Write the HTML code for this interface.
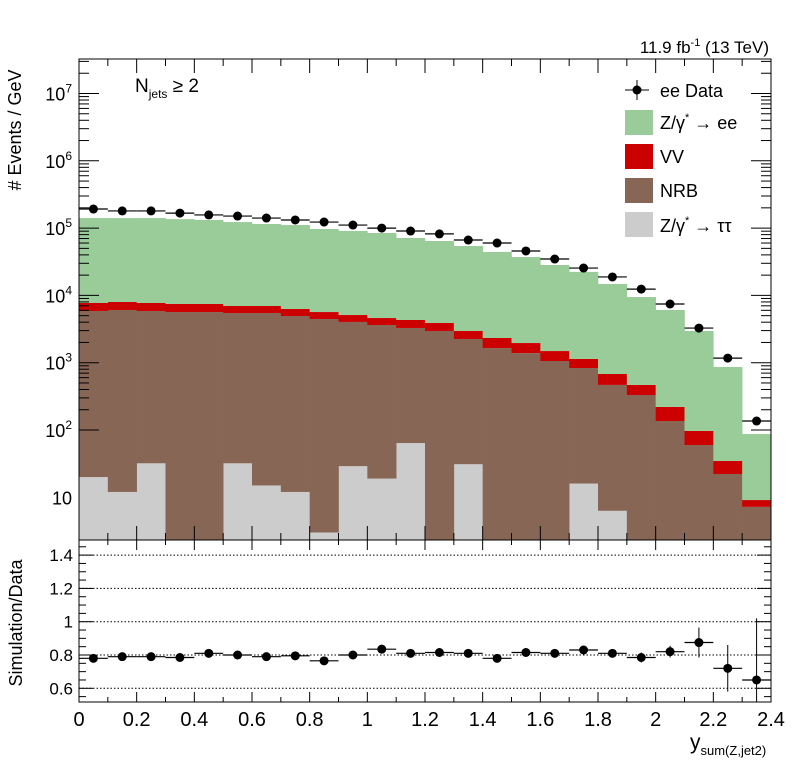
<!DOCTYPE html>
<html><head><meta charset="utf-8">
<style>
html,body{margin:0;padding:0;background:#fff;}
svg{display:block;font-family:"Liberation Sans",sans-serif;}
</style></head>
<body>
<svg id="c" width="796" height="772" viewBox="0 0 796 772" xmlns="http://www.w3.org/2000/svg"></svg>
<script>
const binEdges=[0,0.1,0.2,0.3,0.4,0.5,0.6,0.7,0.8,0.9,1.0,1.1,1.2,1.3,1.4,1.5,1.6,1.7,1.8,1.9,2.0,2.1,2.2,2.3,2.4];
const dataVals=[192000,180000,180000,167000,157000,151000,141000,132000,123000,111000,100000,90500,82000,66500,60000,45700,34700,25500,18800,12400,7450,3270,1170,136];
const tautauVals=[20,12,32,0,0,32,15,12,3,29,19,64,0,31,0,0,0,16,6.3,0,0,0,0,0];
const nrbVals=[5840,6058,5828,5660,5660,5438,5455,4928,4457,4001,3611,3216,2960,2219,1650,1390,1060,818,461,331,136,59.8,22.2,7.2];
const vvVals=[1850,1910,1850,1790,1790,1490,1490,1340,1200,1080,980,1030,930,710,680,570,430,306,212,136,84,37,12.4,1.9];
const dyVals=[133300,133000,133300,128500,124500,116000,108000,104700,91300,85400,79900,67000,60400,51200,41900,35200,26800,21200,14100,8990,5850,2860,828,78];
const ratioVals=[0.78,0.79,0.79,0.785,0.81,0.80,0.79,0.795,0.765,0.80,0.835,0.81,0.815,0.81,0.78,0.815,0.81,0.83,0.81,0.785,0.82,0.875,0.72,0.65];
const ratioErrs=[0.01,0.01,0.01,0.01,0.01,0.01,0.01,0.01,0.01,0.01,0.012,0.012,0.012,0.012,0.012,0.015,0.015,0.02,0.025,0.03,0.035,0.09,0.14,0.37];
const xTicks=[0,0.2,0.4,0.6,0.8,1,1.2,1.4,1.6,1.8,2,2.2,2.4];
const xTickLabels=["0","0.2","0.4","0.6","0.8","1","1.2","1.4","1.6","1.8","2","2.2","2.4"];
const ratioTicks=[0.6,0.8,1,1.2,1.4];
const ratioTickLabels=["0.6","0.8","1","1.2","1.4"];
const decades=[1,2,3,4,5,6,7];

const NS="http://www.w3.org/2000/svg";
const svg=document.getElementById('c');
const L=79,R=771,T1=59,B1=540,T2=540,B2=702;
const logMin=2.32,logMax=7.51,rMin=0.516,rMax=1.49;
const X=v=>L+(v-0)/(2.4-0)*(R-L);
const Y=v=>{const lv=Math.log10(Math.max(v,1e-3));return 93.5+(7-lv)*67.3;};
const YR=v=>655+(0.8-v)/0.2*33.3;
const clampY=y=>Math.max(T1,Math.min(B1,y));
function el(tag,attrs,parent){const e=document.createElementNS(NS,tag);for(const k in attrs)e.setAttribute(k,attrs[k]);(parent||svg).appendChild(e);return e;}

// stacked histograms
const gStack=el('g',{});


const layers=[[tautauVals,'#cccccc','tautau'],[nrbVals,'#886656','nrb'],[vvVals,'#cc0000','vv'],[dyVals,'#99cc99','dy-ee']];
const cum=new Array(24).fill(0);
layers.forEach(([vals,col,nm])=>{
  for(let i=0;i<24;i++){
    const lo=cum[i],hi=cum[i]+vals[i];
    cum[i]=hi;
    if(vals[i]<=0)continue;
    const yTop=clampY(Y(hi)),yBot=lo>0?clampY(Y(lo)):B1;
    if(yBot-yTop<=0)continue;
    const r=el('rect',{x:X(binEdges[i]),y:yTop,width:X(binEdges[i+1])-X(binEdges[i])+0.3,height:yBot-yTop,fill:col},gStack);
    
    
  }
});

// data points
const gData=el('g',{});


for(let i=0;i<24;i++){
  const cx=(X(binEdges[i])+X(binEdges[i+1]))/2,cy=Y(dataVals[i]);
  el('line',{x1:X(binEdges[i]),x2:X(binEdges[i+1]),y1:cy,y2:cy,stroke:'#000','stroke-width':1.2},gData);
  const err=Math.sqrt(dataVals[i]);
  el('line',{x1:cx,x2:cx,y1:Y(dataVals[i]+err),y2:Y(dataVals[i]-err),stroke:'#000','stroke-width':1.2},gData);
  const p=el('circle',{cx:cx,cy:cy,r:4.5,fill:'#000'},gData);
  
  
}

// upper frame and ticks
el('rect',{x:L,y:T1,width:R-L,height:B1-T1,fill:'none',stroke:'#000','stroke-width':1});
for(let i=0;i<=24;i++){const x=X(i*0.1);const len=(i%2===0)?14:7;
  el('line',{x1:x,x2:x,y1:T1,y2:T1+len,stroke:'#000'});
  el('line',{x1:x,x2:x,y1:B1,y2:B1-len,stroke:'#000'});}
for(let d=2;d<=7;d++){for(let m=1;m<=9;m++){
  const v=Math.pow(10,d)*m;const y=Y(v);if(y<T1||y>B1)continue;
  const len=m===1?20:10;
  el('line',{x1:L,x2:L+len,y1:y,y2:y,stroke:'#000'});
  el('line',{x1:R,x2:R-len,y1:y,y2:y,stroke:'#000'});}}
decades.forEach(d=>{const y=Y(Math.pow(10,d));if(y<T1||y>B1)return;
  const t=el('text',{x:72,y:y+7,'font-size':18,'text-anchor':'end'});
  
  
  if(d===1){t.textContent='10';}else{t.textContent='10';const s=el('tspan',{dy:-8,'font-size':12},t);s.textContent=String(d);}
});

// lower pad
[0.6,0.8,1,1.2,1.4].forEach(v=>{el('line',{x1:L,x2:R,y1:YR(v),y2:YR(v),stroke:'#000','stroke-width':1,'stroke-dasharray':'1.5,2'});});
el('rect',{x:L,y:T2,width:R-L,height:B2-T2,fill:'none',stroke:'#000'});
for(let i=0;i<=24;i++){const x=X(i*0.1);const len=(i%2===0)?10:5;
  el('line',{x1:x,x2:x,y1:T2,y2:T2+len,stroke:'#000'});
  el('line',{x1:x,x2:x,y1:B2,y2:B2-len,stroke:'#000'});}
for(let v=0.55;v<1.49;v+=0.05){const y=YR(v);const major=Math.abs((v*10)%2)<0.01||Math.abs((v*10)%2-2)<0.01;const len=(Math.round(v*100)%20===0)?14:7;
  el('line',{x1:L,x2:L+len,y1:y,y2:y,stroke:'#000'});el('line',{x1:R,x2:R-len,y1:y,y2:y,stroke:'#000'});}
ratioTicks.forEach((v,i)=>{const t=el('text',{x:73,y:YR(v)+6,'font-size':17,'text-anchor':'end'});t.textContent=ratioTickLabels[i];
  
  });
const gR=el('g',{});


for(let i=0;i<24;i++){const cx=(X(binEdges[i])+X(binEdges[i+1]))/2,cy=YR(ratioVals[i]);
  el('line',{x1:X(binEdges[i]),x2:X(binEdges[i+1]),y1:cy,y2:cy,stroke:'#000','stroke-width':1.2},gR);
  el('line',{x1:cx,x2:cx,y1:Math.max(T2,YR(ratioVals[i]+ratioErrs[i])),y2:Math.min(B2,YR(ratioVals[i]-ratioErrs[i])),stroke:'#000','stroke-width':1},gR);
  const p=el('circle',{cx:cx,cy:cy,r:4.5,fill:'#000'},gR);
  
  }
xTicks.forEach((v,i)=>{const t=el('text',{x:X(v),y:726,'font-size':20,'text-anchor':'middle'});t.textContent=xTickLabels[i];
  
  });
</script>
<script>
// static labels
(function(){
const NS="http://www.w3.org/2000/svg";const svg=document.getElementById('c');
function add(html){const g=document.createElementNS(NS,'g');g.innerHTML=html;svg.appendChild(g);}
add(`<text x="769" y="53" font-size="17" text-anchor="end">11.9 fb<tspan dy="-7" font-size="11">-1</tspan><tspan dy="7"> (13 TeV)</tspan></text>
<text x="135" y="92" font-size="19">N<tspan dy="6" font-size="12">jets</tspan><tspan dy="-6"> ≥ 2</tspan></text>
<text transform="translate(21,130) rotate(-90)" font-size="18" text-anchor="middle"># Events / GeV</text>
<text transform="translate(22,623) rotate(-90)" font-size="18" text-anchor="middle">Simulation/Data</text>
<text x="690" y="749" font-size="21">y<tspan dy="6" font-size="13">sum(Z,jet2)</tspan></text>
<g font-size="18">
 <g><line x1="625" x2="649" y1="90" y2="90" stroke="#000"/><line x1="637" x2="637" y1="80" y2="100" stroke="#000"/><circle cx="637" cy="90" r="4.5"/><text x="660" y="97">ee Data</text></g>
 <g><rect x="625" y="110" width="28" height="25" fill="#99cc99"/><text x="660" y="129">Z/γ<tspan dy="-8" font-size="11">*</tspan><tspan dy="8"> → ee</tspan></text></g>
 <g><rect x="625" y="144" width="28" height="25" fill="#cc0000"/><text x="660" y="163">VV</text></g>
 <g><rect x="625" y="178" width="28" height="25" fill="#886656"/><text x="660" y="197">NRB</text></g>
 <g><rect x="625" y="212" width="28" height="25" fill="#cccccc"/><text x="660" y="232">Z/γ<tspan dy="-8" font-size="11">*</tspan><tspan dy="8"> → ττ</tspan></text></g>
</g>`);
})();
</script>
</body></html>
